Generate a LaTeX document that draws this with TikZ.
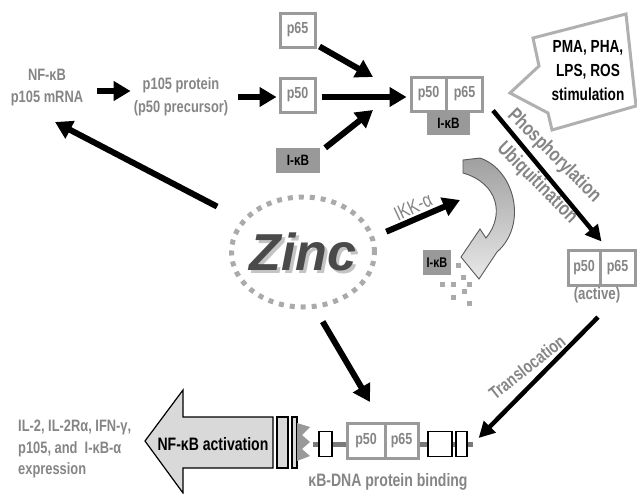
\documentclass[tikz,border=0pt]{standalone}
\usepackage{fontspec}
\setmainfont{Liberation Sans}[FakeStretch=0.78]
\newfontfamily\zincfont{Liberation Sans}
\usetikzlibrary{arrows.meta,calc,shapes.geometric}

\definecolor{labgray}{HTML}{858585}
\definecolor{boxgray}{HTML}{9A9A9A}
\definecolor{fillgray}{HTML}{999999}
\definecolor{dotgray}{HTML}{AAAAAA}
\definecolor{calloutgray}{HTML}{B0B0B0}
\definecolor{zincgray}{HTML}{4A4A4A}
\definecolor{shadowgray}{HTML}{C4C4C4}
\definecolor{dnagray}{HTML}{7A7A7A}
\definecolor{actgray}{HTML}{D9D9D9}

\tikzset{
  lab/.style={text=labgray, inner sep=0pt, align=center,
    font=\bfseries\fontsize{16.5pt}{22pt}\selectfont},
  pbox/.style={draw=boxgray, line width=3pt, fill=white, text=labgray,
    font=\bfseries\fontsize{16pt}{18pt}\selectfont, minimum height=34pt, inner sep=0pt},
  ikb/.style={fill=fillgray, text=black,
    font=\bfseries\fontsize{15pt}{17pt}\selectfont, inner sep=0pt, minimum height=24pt},
  fat/.style={draw=black, line width=6pt, -{Triangle[length=17pt,width=19pt]}},
  slim/.style={draw=black, line width=4.5pt, -{Triangle[length=16pt,width=16pt]}},
  dnabox/.style={draw=black, line width=1.3pt, fill=white, minimum height=25pt, inner sep=0pt},
}

\begin{document}
\begin{tikzpicture}[x=1pt, y=-1pt]
\useasboundingbox (0,0) rectangle (637,493);

% --- p105 synthesis ---
\node[lab] (nfm) at (47,88) {NF-κB\\p105 mRNA};
\node[lab, font=\bfseries\fontsize{16.5pt}{23pt}\selectfont] (p105) at (181,97) {p105 protein\\(p50 precursor)};
\node[pbox, minimum width=35pt] (p65s) at (297.5,30) {p65};
\node[pbox, minimum width=35pt] (p50s) at (297.5,95) {p50};
\node[ikb, minimum width=44pt, minimum height=25pt] (ikbs) at (298,160.5) {I-κB};

% --- cytoplasmic complex ---
\node[pbox, minimum width=35pt] (cp50) at (428.5,94) {p50};
\node[pbox, minimum width=36pt] (cp65) at (464.5,94) {p65};
\node[ikb, minimum width=43pt, minimum height=24pt] (cikb) at (448.5,123) {I-κB};

\coordinate (joinA) at (373,77);
\coordinate (joinB) at (373,110);
\draw[fat] ($(nfm.east)+(14,3)$) -- ($(p105.west)+(-3,-6)$);
\draw[fat] ($(p105.east)+(10,0)$) -- ($(p50s.west)+(-2,2)$);
\draw[fat] ($(p65s.south east)+(3,-2)$) -- (joinA);
\draw[fat] ($(p50s.east)+(5,2)$) -- ($(cp50.west)+(-3,3)$);
\draw[fat] ($(ikbs.north east)+(5,0)$) -- (joinB);

% --- stimulation callout ---
\draw[draw=calloutgray, line width=3pt, fill=white, line join=miter]
  (533,38) -- (626,14) -- (636,106) -- (552,130) -- (548,113) -- (510,93) -- (539,66) -- cycle;
\node[inner sep=0pt, align=center, font=\bfseries\fontsize{17.5pt}{24pt}\selectfont] (stim) at (588,71)
  {PMA, PHA,\\LPS, ROS\\stimulation};

% --- activated dimer ---
\node[pbox, minimum width=32pt, minimum height=35pt] (a50) at (584,267.5) {p50};
\node[pbox, minimum width=35pt, minimum height=35pt] (a65) at (617.5,267.5) {p65};
\node[lab, font=\bfseries\fontsize{17pt}{20pt}\selectfont] (act) at (597,295) {(active)};

\node[lab, rotate=-45, font=\bfseries\fontsize{20pt}{22pt}\selectfont] (phos) at (554,156) {Phosphorylation};
\node[lab, rotate=-45, font=\bfseries\fontsize{20pt}{22pt}\selectfont] (ubiq) at (537,183) {Ubiquitination};
\draw[slim] ($(cp65.south east)+(9,-2)$) -- ($(a65.north west)+(3,-7)$);

% --- I-kB degradation ---
\node[ikb, minimum width=28pt, minimum height=25pt, font=\bfseries\fontsize{14pt}{16pt}\selectfont] (ikbd) at (437,262.5) {I-κB};
\foreach \px/\py in {458/265, 442/284, 453/284, 463/277, 469/284, 464/291, 453/297, 469/303}
  \fill[dotgray] (\px-2.5,\py-2.5) rectangle ++(5,5);
\shadedraw[top color=gray!75, bottom color=gray!18, draw=gray!70!black, line width=0.9pt, line join=miter]
  (480,158) .. controls (515,170) and (528,225) .. (497,252)
  -- (479,279) -- (461,257) -- (480,229) -- (486,238)
  .. controls (505,215) and (498,183) .. (463,173) -- (463,160) -- cycle;

% --- zinc ---
\node[ellipse, draw=dotgray, line width=5pt, dash pattern=on 5pt off 6pt,
  minimum width=143pt, minimum height=110pt, inner sep=0pt] (zinc) at (303,252) {};
\node[text=shadowgray, font=\zincfont\bfseries\itshape\fontsize{52pt}{60pt}\selectfont] (zincshadow) at (306,255) {Zinc};
\node[text=zincgray, font=\zincfont\bfseries\itshape\fontsize{52pt}{60pt}\selectfont] (zincword) at (303,252) {Zinc};

\node[lab, rotate=25, font=\fontsize{20pt}{22pt}\selectfont] (ikk) at (413,207) {IKK-α};
\coordinate (mrnaIn) at (55,122);
\coordinate (ikkIn) at (460,200);
\coordinate (bindIn) at (370,402);
\draw[fat, shorten <=28pt] (zinc.152) -- (mrnaIn);
\draw[fat, shorten <=13pt] (zinc.12) -- (ikkIn);
\draw[fat, shorten <=15pt] (zinc.-78) -- (bindIn);

% --- DNA binding ---
\draw[line width=5pt, dnagray] (313,444) -- (473,444);
\node[dnabox, minimum width=13pt] (db0) at (325.5,444) {};
\node[pbox, minimum width=38pt, minimum height=35pt] (bp50) at (366,440.5) {p50};
\node[pbox, minimum width=33pt, minimum height=35pt] (bp65) at (401.5,440.5) {p65};
\node[dnabox, minimum width=24pt] (db1) at (440,444) {};
\node[dnabox, minimum width=11pt] (db2) at (461.5,444) {};
\node[lab, font=\bfseries\fontsize{18pt}{20pt}\selectfont] (bindlab) at (388,482) {κB-DNA protein binding};

\node[lab, rotate=38, font=\bfseries\fontsize{18pt}{20pt}\selectfont] (transl) at (527,367) {Translocation};
\draw[slim] ($(act.south)+(1,14)$) -- ($(db2.east)+(11,-6)$);

% --- transcription output ---
\draw[fill=actgray, draw=black, line width=1.2pt, line join=miter]
  (145,441) -- (183,390) -- (183,417) -- (273,417) -- (273,468) -- (183,468) -- (183,493) -- cycle;
\node[inner sep=0pt, font=\bfseries\fontsize{18pt}{20pt}\selectfont] (actlab) at (213,444) {NF-κB activation};
\draw[fill=actgray, line width=1.2pt] (277,417) rectangle (288,468);
\draw[fill=actgray, line width=1.2pt] (292,417) rectangle (297,468);
\fill[fillgray] (297,423) -- (310,427) -- (302,435) -- (310,442) -- (302,449) -- (310,456) -- (297,461) -- cycle;

\node[lab, align=left, anchor=west, font=\bfseries\fontsize{16.5pt}{21.5pt}\selectfont] (genes) at (18,449)
  {IL-2, IL-2Rα, IFN-γ,\\p105, and~ I-κB-α\\expression};
\end{tikzpicture}
\end{document}
